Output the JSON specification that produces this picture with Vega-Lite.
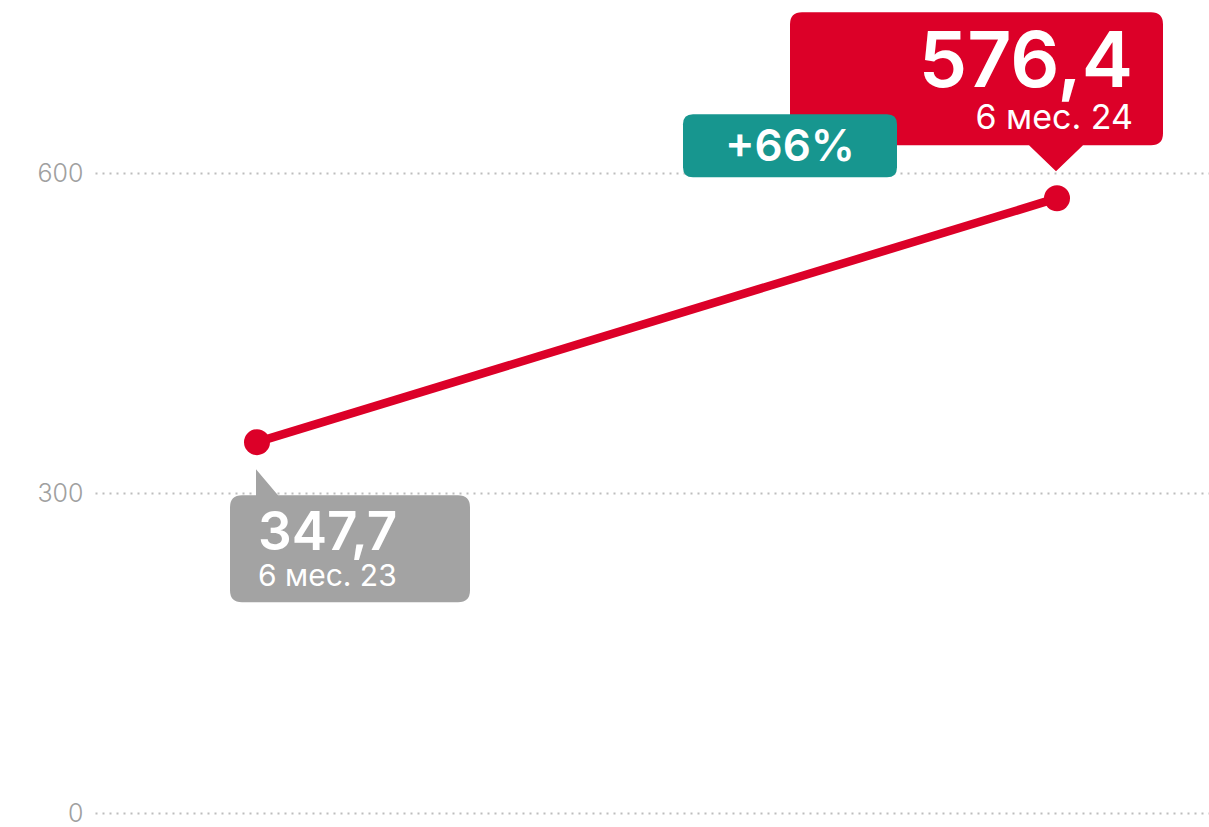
{
  "$schema": "https://vega.github.io/schema/vega-lite/v6.json",
  "width": 1114,
  "height": 813,
  "autosize": {"type": "none"},
  "padding": {"left": 95, "top": 0, "right": 0, "bottom": 14},
  "background": "#ffffff",
  "config": {
    "view": {"stroke": null},
    "font": "Inter",
    "locale": {"number": {"decimal": ",", "thousands": " ", "grouping": [3], "currency": ["", ""]}}
  },
  "data": {
    "values": [
      {"period": "6 мес. 23", "year": 2023, "value": 347.7, "change": null},
      {"period": "6 мес. 24", "year": 2024, "value": 576.4, "change": "+66%"}
    ]
  },
  "encoding": {
    "x": {"field": "year", "type": "quantitative", "scale": {"domain": [2022.7975, 2024.19]}, "axis": null},
    "y": {
      "field": "value", "type": "quantitative",
      "scale": {"domain": [0, 762.2], "nice": false, "zero": true},
      "axis": {
        "values": [0, 300, 600], "title": null, "domain": false, "ticks": false, "tickSize": 0,
        "labelPadding": 12, "labelFont": "Inter", "labelFontSize": 25, "labelFontWeight": 300, "labelColor": "#a0a0a0",
        "gridDash": [2, 5], "gridColor": "#bdbdbd", "gridWidth": 2, "format": "d"
      }
    }
  },
  "layer": [
    {
      "mark": {"type": "point", "filled": true, "opacity": 1, "strokeWidth": 0},
      "encoding": {
        "shape": {
          "field": "period", "type": "nominal", "legend": null,
          "scale": {
            "domain": ["6 мес. 23", "6 мес. 24"],
            "range": [
              "M -1 27 L 21 53 L 201 53 Q 213 53 213 65 L 213 148 Q 213 160 201 160 L -15 160 Q -27 160 -27 148 L -27 65 Q -27 53 -15 53 L -1 53 Z",
              "M -1 -27 L -28 -53 L -255 -53 Q -267 -53 -267 -65 L -267 -174 Q -267 -186 -255 -186 L 94 -186 Q 106 -186 106 -174 L 106 -65 Q 106 -53 94 -53 L 26 -53 Z"
            ]
          }
        },
        "color": {
          "field": "period", "type": "nominal", "legend": null,
          "scale": {"domain": ["6 мес. 23", "6 мес. 24"], "range": ["#a3a3a3", "#dc0028"]}
        },
        "size": {"value": 4}
      }
    },
    {
      "transform": [{"filter": "datum.change != null"}],
      "mark": {
        "type": "point", "filled": true, "opacity": 1, "strokeWidth": 0, "color": "#17968f",
        "shape": "M -364 -84 L -170 -84 Q -160 -84 -160 -74 L -160 -31 Q -160 -21 -170 -21 L -364 -21 Q -374 -21 -374 -31 L -374 -74 Q -374 -84 -364 -84 Z"
      },
      "encoding": {"size": {"value": 4}}
    },
    {
      "mark": {"type": "line", "color": "#dc0028", "strokeWidth": 8.5}
    },
    {
      "mark": {"type": "circle", "color": "#dc0028", "opacity": 1, "size": 676}
    },
    {
      "transform": [{"filter": "datum.period === '6 мес. 23'"}],
      "mark": {"type": "text", "align": "left", "baseline": "alphabetic", "dx": 1, "dy": 108, "fontSize": 53, "fontWeight": 600, "color": "#ffffff", "font": "Inter"},
      "encoding": {"text": {"field": "value", "type": "quantitative", "format": ".1f"}}
    },
    {
      "transform": [{"filter": "datum.period === '6 мес. 23'"}],
      "mark": {"type": "text", "align": "left", "baseline": "alphabetic", "dx": 1, "dy": 144, "fontSize": 30, "color": "#ffffff", "font": "Inter"},
      "encoding": {"text": {"field": "period", "type": "nominal"}}
    },
    {
      "transform": [{"filter": "datum.period === '6 мес. 24'"}],
      "mark": {"type": "text", "align": "right", "baseline": "alphabetic", "dx": 76, "dy": -111, "fontSize": 77, "fontWeight": 600, "color": "#ffffff", "font": "Inter"},
      "encoding": {"text": {"field": "value", "type": "quantitative", "format": ".1f"}}
    },
    {
      "transform": [{"filter": "datum.period === '6 мес. 24'"}],
      "mark": {"type": "text", "align": "right", "baseline": "alphabetic", "dx": 76, "dy": -69, "fontSize": 34, "color": "#ffffff", "font": "Inter"},
      "encoding": {"text": {"field": "period", "type": "nominal"}}
    },
    {
      "transform": [{"filter": "datum.change != null"}],
      "mark": {"type": "text", "align": "center", "baseline": "alphabetic", "dx": -267, "dy": -37, "fontSize": 44, "fontWeight": 600, "color": "#ffffff", "font": "Inter"},
      "encoding": {"text": {"field": "change", "type": "nominal"}}
    }
  ]
}
